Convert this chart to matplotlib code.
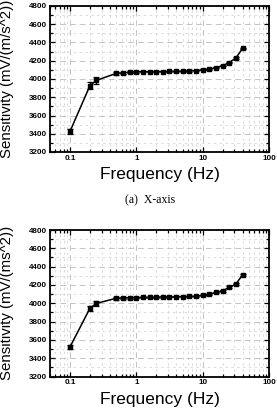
import matplotlib
matplotlib.use("Agg")
import matplotlib.pyplot as plt
from matplotlib.ticker import LogLocator, MultipleLocator, FixedLocator, FixedFormatter

freq = [0.1, 0.2, 0.25, 0.5, 0.63, 0.8, 1.0, 1.25, 1.6, 2.0, 2.5, 3.15, 4.0, 5.0,
        6.3, 8.0, 10.0, 12.5, 16.0, 20.0, 25.0, 31.5, 40.0]

sens_x = [3425, 3927, 3985, 4062, 4066, 4075, 4078, 4079, 4080, 4081, 4082, 4083, 4084, 4086,
          4088, 4092, 4100, 4108, 4125, 4145, 4180, 4228, 4335]
err_x = [30, 35, 35, 15, 12, 12, 8, 6, 6, 6, 6, 6, 6, 6,
         6, 6, 6, 6, 8, 8, 10, 10, 10]

sens_y = [3522, 3945, 3998, 4055, 4056, 4060, 4062, 4064, 4066, 4067, 4068, 4069, 4070, 4072,
          4074, 4078, 4088, 4100, 4118, 4136, 4173, 4208, 4310]
err_y = [25, 30, 30, 15, 12, 12, 8, 6, 6, 6, 6, 6, 6, 6,
         6, 6, 6, 6, 8, 8, 10, 10, 10]

ylabels = ["Sensitivity (mV/(m/s^2))", "Sensitivity (mV/(ms^2))"]
xlabel = "Frequency (Hz)"
caption = "(a)  X-axis"
xticks = [0.1, 1, 10, 100]
xticklabels = ["0.1", "1", "10", "100"]
yticks = [3200, 3400, 3600, 3800, 4000, 4200, 4400, 4600, 4800]

plt.rcParams['font.family'] = ['Liberation Sans', 'DejaVu Sans']

fig = plt.figure(figsize=(2.77, 4.17), dpi=100)
W, H = 277.0, 417.0

def make_ax(top_px, bot_px):
    ax = fig.add_axes([50 / W, 1 - bot_px / H, 219 / W, (bot_px - top_px) / H])
    return ax

axes = [make_ax(6, 152), make_ax(230, 376.5)]
data = [(sens_x, err_x), (sens_y, err_y)]

for i, ax in enumerate(axes):
    s, e = data[i]
    ax.set_xscale('log')
    ax.set_xlim(0.05, 100)
    ax.set_ylim(3200, 4800)
    ax.grid(True, which='major', linestyle=(0, (6, 4)), color='#c4c4c4', lw=0.7)
    ax.grid(True, which='minor', linestyle=(0, (3, 4)), color='#d6d6d6', lw=0.6)
    ax.set_axisbelow(True)
    ax.errorbar(freq, s, yerr=e, color='black', lw=1.1, marker='s', ms=3.3,
                mfc='black', mec='black', capsize=2.2, elinewidth=0.9, capthick=0.9)
    ax.xaxis.set_major_locator(FixedLocator(xticks))
    ax.xaxis.set_major_formatter(FixedFormatter(xticklabels))
    ax.xaxis.set_minor_locator(LogLocator(base=10, subs=range(2, 10)))
    ax.set_yticks(yticks)
    ax.yaxis.set_minor_locator(MultipleLocator(100))
    ax.tick_params(which='both', direction='in', top=True, right=True,
                   labelsize=5.8, width=0.9, pad=2)
    ax.tick_params(which='major', length=3.5)
    ax.tick_params(which='minor', length=2)
    for lbl in ax.get_xticklabels() + ax.get_yticklabels():
        lbl.set_fontweight('bold')
    for sp in ax.spines.values():
        sp.set_linewidth(1.3)
    ax.set_xlabel(xlabel, fontsize=12.5, labelpad=4)
    ax.set_ylabel(ylabels[i], fontsize=10.8, labelpad=3)

axes[0].yaxis.set_label_coords(-0.165, 0.5)
axes[1].yaxis.set_label_coords(-0.165, 0.5)

fig.text(150 / W, 1 - 200 / H, caption, ha='center', va='center',
         fontsize=8.5, family='Liberation Serif')

fig.savefig('out.png', dpi=100)
